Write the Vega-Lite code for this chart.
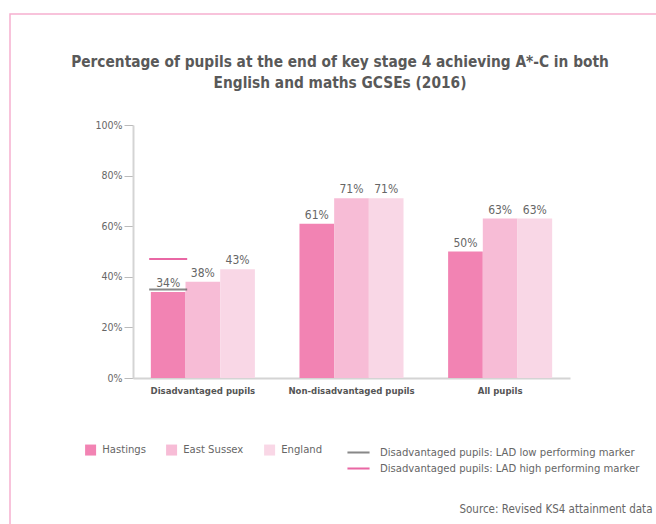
{
  "$schema": "https://vega.github.io/schema/vega-lite/v6.json",
  "autosize": "none",
  "width": 660,
  "height": 520,
  "padding": {"left": 10, "top": 14, "right": 0, "bottom": 0},
  "background": "white",
  "config": {
    "font": "'DejaVu Sans Condensed', sans-serif",
    "view": {"stroke": "#f6b0d0", "strokeWidth": 1.5}
  },
  "title": {
    "text": ["Percentage of pupils at the end of key stage 4 achieving A*-C in both", "English and maths GCSEs (2016)"],
    "fontSize": 15.3,
    "fontWeight": "bold",
    "color": "#595959",
    "anchor": "middle",
    "frame": "group",
    "lineHeight": 21,
    "offset": -77
  },
  "datasets": {
    "bars": [
      {"group": "Disadvantaged pupils", "area": "Hastings", "value": 34},
      {"group": "Disadvantaged pupils", "area": "East Sussex", "value": 38},
      {"group": "Disadvantaged pupils", "area": "England", "value": 43},
      {"group": "Non-disadvantaged pupils", "area": "Hastings", "value": 61},
      {"group": "Non-disadvantaged pupils", "area": "East Sussex", "value": 71},
      {"group": "Non-disadvantaged pupils", "area": "England", "value": 71},
      {"group": "All pupils", "area": "Hastings", "value": 50},
      {"group": "All pupils", "area": "East Sussex", "value": 63},
      {"group": "All pupils", "area": "England", "value": 63}
    ],
    "markers": [
      {"group": "Disadvantaged pupils", "area": "Hastings", "marker": "Disadvantaged pupils: LAD low performing marker", "value": 35},
      {"group": "Disadvantaged pupils", "area": "Hastings", "marker": "Disadvantaged pupils: LAD high performing marker", "value": 47}
    ]
  },
  "encoding": {
    "x": {
      "field": "group",
      "type": "nominal",
      "scale": {
        "domain": ["Disadvantaged pupils", "Non-disadvantaged pupils", "All pupils"],
        "range": [123, 560],
        "paddingInner": 0.3,
        "paddingOuter": 0.12
      },
      "axis": {
        "orient": "bottom",
        "offset": -156,
        "labelAngle": 0,
        "labelFontWeight": "bold",
        "labelFontSize": 9.5,
        "labelColor": "#555555",
        "labelPadding": 7,
        "ticks": false,
        "domainColor": "#d4d4d4",
        "domainWidth": 2,
        "title": "Source: Revised KS4 attainment data",
        "titleFontWeight": "normal",
        "titleFontSize": 11.5,
        "titleColor": "#666666",
        "titleAlign": "right",
        "titleBaseline": "alphabetic",
        "titleX": 642,
        "titleY": 134
      }
    },
    "xOffset": {
      "field": "area",
      "type": "nominal",
      "scale": {"domain": ["Hastings", "East Sussex", "England"], "paddingInner": 0, "paddingOuter": 0}
    },
    "y": {
      "field": "value",
      "type": "quantitative",
      "scale": {"domain": [0, 100], "range": [364, 111], "nice": false},
      "axis": {
        "orient": "left",
        "offset": -123,
        "values": [0, 20, 40, 60, 80, 100],
        "labelExpr": "datum.value + '%'",
        "labelFontSize": 10.5,
        "labelColor": "#666666",
        "labelPadding": 2,
        "tickSize": 9,
        "tickColor": "#bbbbbb",
        "domainColor": "#d4d4d4",
        "domainWidth": 2,
        "grid": false,
        "title": null
      }
    }
  },
  "layer": [
    {
      "data": {"name": "bars"},
      "mark": {"type": "bar"},
      "encoding": {
        "color": {
          "field": "area",
          "type": "nominal",
          "scale": {"domain": ["Hastings", "East Sussex", "England"], "range": ["#f283b3", "#f7bcd6", "#f9d7e6"]},
          "legend": {
            "title": null,
            "orient": "none",
            "direction": "horizontal",
            "legendX": 75,
            "legendY": 430,
            "padding": 0,
            "symbolType": "square",
            "symbolSize": 121,
            "symbolStrokeWidth": 0,
            "labelFontSize": 11.2,
            "labelColor": "#666666",
            "labelOffset": 6,
            "columnPadding": 20
          }
        }
      }
    },
    {
      "data": {"name": "bars"},
      "transform": [{"calculate": "datum.value + '%'", "as": "label"}],
      "mark": {"type": "text", "baseline": "bottom", "dy": -2, "fontSize": 12, "color": "#666666"},
      "encoding": {"text": {"field": "label", "type": "nominal"}}
    },
    {
      "data": {"name": "markers"},
      "mark": {"type": "tick", "size": 38, "thickness": 2},
      "encoding": {
        "fill": {
          "field": "marker",
          "type": "nominal",
          "scale": {
            "domain": ["Disadvantaged pupils: LAD low performing marker", "Disadvantaged pupils: LAD high performing marker"],
            "range": ["#555555", "#e0267d"]
          },
          "legend": {
            "title": null,
            "orient": "none",
            "direction": "vertical",
            "legendX": 340,
            "legendY": 430,
            "padding": 0,
            "symbolType": "M-1.3,-0.12H1.3V0.12H-1.3Z",
            "symbolSize": 289,
            "symbolStrokeWidth": 0,
            "labelFontSize": 11.2,
            "labelColor": "#666666",
            "labelOffset": 13,
            "rowPadding": 2,
            "labelLimit": 400
          }
        }
      }
    }
  ]
}
